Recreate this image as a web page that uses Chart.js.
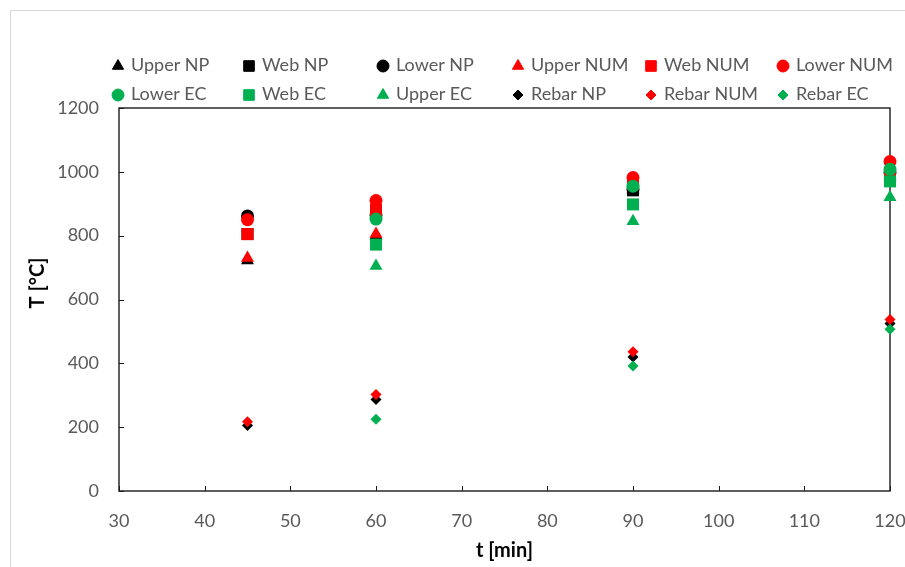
<!DOCTYPE html>
<html>
<head>
<meta charset="utf-8">
<script src="https://cdn.jsdelivr.net/npm/chart.js@4/dist/chart.umd.min.js"></script>
<style>
  html, body { margin: 0; padding: 0; background: #fff; }
  #wrap { position: relative; width: 905px; height: 567px; }
  #frame { position: absolute; left: 10px; top: 10px; right: -2px; bottom: -2px;
           border-left: 1px solid #d9d9d9; border-top: 1px solid #d9d9d9; }
  canvas { position: absolute; left: 0; top: 0; }
</style>
</head>
<body>
<div id="wrap">
  <div id="frame"></div>
  <canvas id="myChart" width="905" height="567"></canvas>
</div>
<script>
// time steps (min)
const times = [45, 60, 90, 120];

// temperatures (°C), null = no value at that time
const upperNP = [722, 800, 945, 985];
const webNP = [805, 880, 942, 975];
const lowerNP = [862, 865, 945, 998];
const upperNUM = [730, 805, 955, 990];
const webNUM = [805, 880, 965, 985];
const lowerNUM = [850, 910, 982, 1032];
const lowerEC = [null, 852, 955, 1008];
const webEC = [null, 772, 898, 970];
const upperEC = [null, 705, 845, 920];
const rebarNP = [205, 287, 420, 525];
const rebarNUM = [217, 302, 436, 537];
const rebarEC = [null, 225, 392, 507];

const xTicks = [30, 120, 10];
const yTicks = [0, 1200, 200];

const BLACK = "#000000";
const RED = "#ff0000";
const GREEN = "#00b050";

const series = [
  { label: "Upper NP", values: upperNP, color: BLACK, style: "triangle" },
  { label: "Web NP", values: webNP, color: BLACK, style: "rect" },
  { label: "Lower NP", values: lowerNP, color: BLACK, style: "circle" },
  { label: "Upper NUM", values: upperNUM, color: RED, style: "triangle" },
  { label: "Web NUM", values: webNUM, color: RED, style: "rect" },
  { label: "Lower NUM", values: lowerNUM, color: RED, style: "circle" },
  { label: "Lower EC", values: lowerEC, color: GREEN, style: "circle" },
  { label: "Web EC", values: webEC, color: GREEN, style: "rect" },
  { label: "Upper EC", values: upperEC, color: GREEN, style: "triangle" },
  { label: "Rebar NP", values: rebarNP, color: BLACK, style: "rectRot" },
  { label: "Rebar NUM", values: rebarNUM, color: RED, style: "rectRot" },
  { label: "Rebar EC", values: rebarEC, color: GREEN, style: "rectRot" },
];

const pointSize = { circle: 6.5, rect: 8.5, triangle: 7.5, rectRot: 5.5 };
const legendSize = { circle: 6, rect: 7.5, triangle: 6.5, rectRot: 5 };

const FONT = "Lato, 'Open Sans', sans-serif";

// legend drawn as a grid, like the original
const gridLegend = {
  id: "gridLegend",
  afterDraw(chart) {
    const ctx = chart.ctx;
    const cols = [118, 249, 383, 518, 651, 783];
    const rows = [65, 94];
    ctx.save();
    ctx.font = "18px " + FONT;
    ctx.textBaseline = "middle";
    series.forEach((s, i) => {
      const x = cols[i % 6];
      const y = rows[Math.floor(i / 6)];
      ctx.fillStyle = s.color;
      ctx.strokeStyle = s.color;
      ctx.lineWidth = 1;
      Chart.helpers.drawPoint(ctx, { pointStyle: s.style, radius: legendSize[s.style], rotation: 0, borderWidth: 1 }, x, y + 1);
      ctx.fillStyle = "#595959";
      ctx.fillText(s.label, x + 13, y);
    });
    ctx.restore();
  },
};

// plot box and inside tick marks
const plotBox = {
  id: "plotBox",
  beforeDatasetsDraw(chart) {
    const { ctx, chartArea: a, scales } = chart;
    ctx.save();
    ctx.strokeStyle = "#1a1a1a";
    ctx.lineWidth = 1.4;
    ctx.strokeRect(a.left, a.top, a.right - a.left, a.bottom - a.top);
    ctx.lineWidth = 1;
    ctx.beginPath();
    scales.x.ticks.forEach((t) => {
      const px = Math.round(scales.x.getPixelForValue(t.value)) + 0.5;
      ctx.moveTo(px, a.bottom);
      ctx.lineTo(px, a.bottom - 5);
    });
    scales.y.ticks.forEach((t) => {
      const py = Math.round(scales.y.getPixelForValue(t.value)) + 0.5;
      ctx.moveTo(a.left, py);
      ctx.lineTo(a.left + 5, py);
    });
    ctx.stroke();
    ctx.restore();
  },
};

// y title sits a little above the middle in the original
const yTitle = {
  id: "yTitle",
  afterDraw(chart) {
    const ctx = chart.ctx;
    ctx.save();
    ctx.translate(38, 283);
    ctx.rotate(-Math.PI / 2);
    ctx.font = "bold 20px " + FONT;
    ctx.fillStyle = "#000";
    ctx.textAlign = "center";
    ctx.textBaseline = "middle";
    ctx.fillText("T [°C]", 0, 0);
    ctx.restore();
  },
};

const ctx = document.getElementById("myChart");
const myChart = new Chart(ctx, {
  type: "scatter",
  data: {
    datasets: series.map((s, i) => ({
      label: s.label,
      data: times.map((t, j) => ({ x: t, y: s.values[j] })).filter((p) => p.y !== null),
      pointStyle: s.style,
      pointRadius: pointSize[s.style],
      pointHoverRadius: pointSize[s.style],
      backgroundColor: s.color,
      borderColor: s.color,
      borderWidth: 0,
      clip: false,
      order: -i,
    })),
  },
  plugins: [gridLegend, plotBox, yTitle],
  options: {
    responsive: false,
    animation: false,
    layout: { padding: { left: 0, right: 0, top: 108, bottom: 0 } },
    plugins: { legend: { display: false }, tooltip: { enabled: false } },
    scales: {
      x: {
        type: "linear",
        min: xTicks[0],
        max: xTicks[1],
        ticks: { stepSize: xTicks[2], padding: 19, color: "#595959", font: { family: FONT, size: 18 },
                 callback: (v) => String(v) },
        grid: { display: false, drawTicks: false },
        border: { display: false },
        title: { display: true, text: "t [min]", color: "#000", font: { family: FONT, size: 20, weight: "bold" }, padding: { top: 0, bottom: 4 } },
        afterFit(scale) { scale.height = 76; scale.paddingRight = 15; scale.paddingLeft = 0; },
      },
      y: {
        type: "linear",
        min: yTicks[0],
        max: yTicks[1],
        ticks: { stepSize: yTicks[2], padding: 20, color: "#595959", font: { family: FONT, size: 18 },
                 callback: (v) => String(v) },
        grid: { display: false, drawTicks: false },
        border: { display: false },
        title: { display: false },
        afterFit(scale) { scale.width = 119; },
      },
    },
  },
});
</script>
</body>
</html>
